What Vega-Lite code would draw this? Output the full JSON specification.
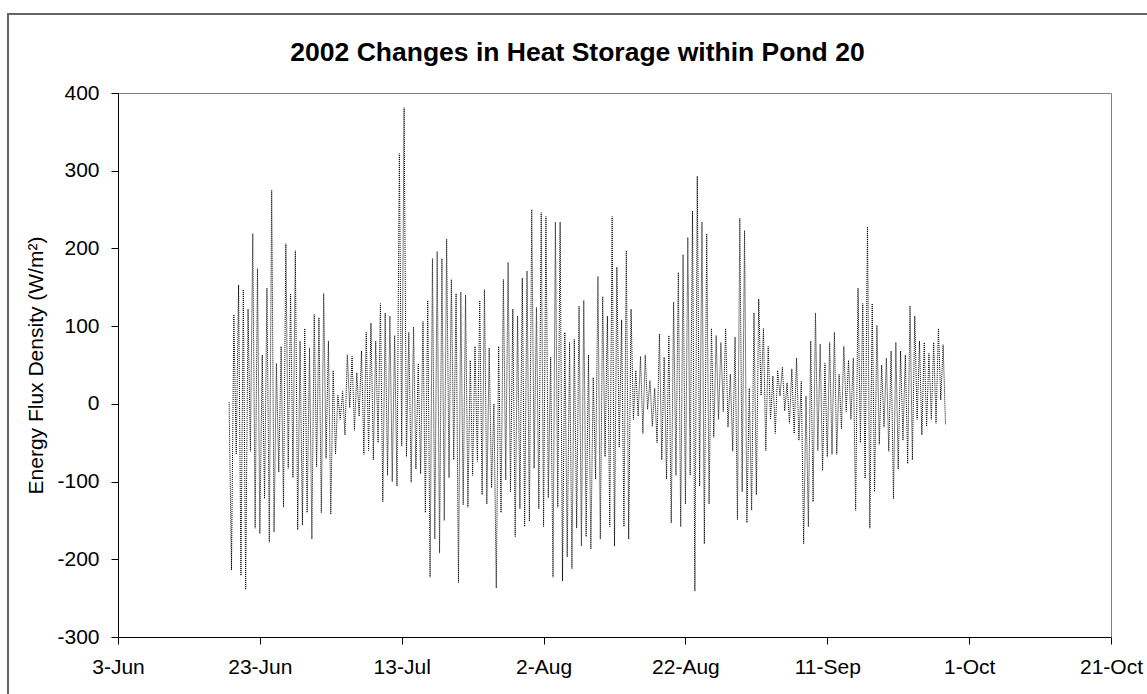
{
  "$schema": "https://vega.github.io/schema/vega-lite/v6.json",
  "width": 993,
  "height": 544,
  "autosize": {"type": "none"},
  "padding": {"left": 118, "top": 93, "right": 36, "bottom": 57},
  "background": "white",
  "config": {
    "font": "Liberation Sans",
    "view": {"stroke": "#808080", "strokeWidth": 1},
    "axis": {"grid": false, "domainColor": "black", "tickColor": "black", "labelColor": "black", "titleColor": "black", "labelFont": "Liberation Sans", "titleFont": "Liberation Sans"}
  },
  "title": {"text": "2002 Changes in Heat Storage within Pond 20", "font": "Liberation Sans", "fontSize": 26.5, "fontWeight": "bold", "color": "black", "anchor": "middle", "frame": "group", "dx": -37, "baseline": "alphabetic", "offset": -74},
  "data": {"values": [
    {"t":"2002-06-18T16:00","v":2},
    {"t":"2002-06-19T00:00","v":-214},{"t":"2002-06-19T08:00","v":115},{"t":"2002-06-19T16:00","v":-65},
    {"t":"2002-06-20T00:00","v":153},{"t":"2002-06-20T08:00","v":-221},{"t":"2002-06-20T16:00","v":147},
    {"t":"2002-06-21T00:00","v":-239},{"t":"2002-06-21T08:00","v":122},{"t":"2002-06-21T16:00","v":-61},
    {"t":"2002-06-22T00:00","v":219},{"t":"2002-06-22T08:00","v":-160},{"t":"2002-06-22T16:00","v":174},
    {"t":"2002-06-23T00:00","v":-167},{"t":"2002-06-23T08:00","v":63},{"t":"2002-06-23T16:00","v":-122},
    {"t":"2002-06-24T00:00","v":149},{"t":"2002-06-24T08:00","v":-178},{"t":"2002-06-24T16:00","v":275},
    {"t":"2002-06-25T00:00","v":-165},{"t":"2002-06-25T08:00","v":52},{"t":"2002-06-25T16:00","v":-88},
    {"t":"2002-06-26T00:00","v":74},{"t":"2002-06-26T08:00","v":-133},{"t":"2002-06-26T16:00","v":206},
    {"t":"2002-06-27T00:00","v":-83},{"t":"2002-06-27T08:00","v":142},{"t":"2002-06-27T16:00","v":-95},
    {"t":"2002-06-28T00:00","v":197},{"t":"2002-06-28T08:00","v":-162},{"t":"2002-06-28T16:00","v":81},
    {"t":"2002-06-29T00:00","v":-156},{"t":"2002-06-29T08:00","v":97},{"t":"2002-06-29T16:00","v":-140},
    {"t":"2002-06-30T00:00","v":72},{"t":"2002-06-30T08:00","v":-174},{"t":"2002-06-30T16:00","v":115},
    {"t":"2002-07-01T00:00","v":-81},{"t":"2002-07-01T08:00","v":111},{"t":"2002-07-01T16:00","v":-140},
    {"t":"2002-07-02T00:00","v":142},{"t":"2002-07-02T08:00","v":-70},{"t":"2002-07-02T16:00","v":81},
    {"t":"2002-07-03T00:00","v":-142},{"t":"2002-07-03T08:00","v":43},{"t":"2002-07-03T16:00","v":-65},
    {"t":"2002-07-04T00:00","v":11},{"t":"2002-07-04T08:00","v":-20},{"t":"2002-07-04T16:00","v":16},
    {"t":"2002-07-05T00:00","v":-40},{"t":"2002-07-05T08:00","v":63},{"t":"2002-07-05T16:00","v":-5},
    {"t":"2002-07-06T00:00","v":61},{"t":"2002-07-06T08:00","v":-34},{"t":"2002-07-06T16:00","v":40},
    {"t":"2002-07-07T00:00","v":-16},{"t":"2002-07-07T08:00","v":68},{"t":"2002-07-07T16:00","v":-65},
    {"t":"2002-07-08T00:00","v":92},{"t":"2002-07-08T08:00","v":-60},{"t":"2002-07-08T16:00","v":104},
    {"t":"2002-07-09T00:00","v":-72},{"t":"2002-07-09T08:00","v":81},{"t":"2002-07-09T16:00","v":-50},
    {"t":"2002-07-10T00:00","v":129},{"t":"2002-07-10T08:00","v":-126},{"t":"2002-07-10T16:00","v":117},
    {"t":"2002-07-11T00:00","v":-92},{"t":"2002-07-11T08:00","v":113},{"t":"2002-07-11T16:00","v":-100},
    {"t":"2002-07-12T00:00","v":88},{"t":"2002-07-12T08:00","v":-106},{"t":"2002-07-12T16:00","v":322},
    {"t":"2002-07-13T00:00","v":-54},{"t":"2002-07-13T08:00","v":381},{"t":"2002-07-13T16:00","v":-68},
    {"t":"2002-07-14T00:00","v":92},{"t":"2002-07-14T08:00","v":-101},{"t":"2002-07-14T16:00","v":99},
    {"t":"2002-07-15T00:00","v":-84},{"t":"2002-07-15T08:00","v":52},{"t":"2002-07-15T16:00","v":-90},
    {"t":"2002-07-16T00:00","v":106},{"t":"2002-07-16T08:00","v":-140},{"t":"2002-07-16T16:00","v":133},
    {"t":"2002-07-17T00:00","v":-223},{"t":"2002-07-17T08:00","v":187},{"t":"2002-07-17T16:00","v":-174},
    {"t":"2002-07-18T00:00","v":196},{"t":"2002-07-18T08:00","v":-192},{"t":"2002-07-18T16:00","v":187},
    {"t":"2002-07-19T00:00","v":-150},{"t":"2002-07-19T08:00","v":212},{"t":"2002-07-19T16:00","v":-95},
    {"t":"2002-07-20T00:00","v":160},{"t":"2002-07-20T08:00","v":-72},{"t":"2002-07-20T16:00","v":142},
    {"t":"2002-07-21T00:00","v":-230},{"t":"2002-07-21T08:00","v":144},{"t":"2002-07-21T16:00","v":-130},
    {"t":"2002-07-22T00:00","v":140},{"t":"2002-07-22T08:00","v":-133},{"t":"2002-07-22T16:00","v":56},
    {"t":"2002-07-23T00:00","v":-92},{"t":"2002-07-23T08:00","v":74},{"t":"2002-07-23T16:00","v":-74},
    {"t":"2002-07-24T00:00","v":133},{"t":"2002-07-24T08:00","v":-117},{"t":"2002-07-24T16:00","v":147},
    {"t":"2002-07-25T00:00","v":-129},{"t":"2002-07-25T08:00","v":72},{"t":"2002-07-25T16:00","v":-108},
    {"t":"2002-07-26T00:00","v":0},{"t":"2002-07-26T08:00","v":-237},{"t":"2002-07-26T16:00","v":74},
    {"t":"2002-07-27T00:00","v":-140},{"t":"2002-07-27T08:00","v":160},{"t":"2002-07-27T16:00","v":-98},
    {"t":"2002-07-28T00:00","v":182},{"t":"2002-07-28T08:00","v":-113},{"t":"2002-07-28T16:00","v":122},
    {"t":"2002-07-29T00:00","v":-171},{"t":"2002-07-29T08:00","v":113},{"t":"2002-07-29T16:00","v":-135},
    {"t":"2002-07-30T00:00","v":162},{"t":"2002-07-30T08:00","v":-158},{"t":"2002-07-30T16:00","v":171},
    {"t":"2002-07-31T00:00","v":-151},{"t":"2002-07-31T08:00","v":250},{"t":"2002-07-31T16:00","v":-83},
    {"t":"2002-08-01T00:00","v":124},{"t":"2002-08-01T08:00","v":-135},{"t":"2002-08-01T16:00","v":246},
    {"t":"2002-08-02T00:00","v":-158},{"t":"2002-08-02T08:00","v":241},{"t":"2002-08-02T16:00","v":-121},
    {"t":"2002-08-03T00:00","v":60},{"t":"2002-08-03T08:00","v":-223},{"t":"2002-08-03T16:00","v":234},
    {"t":"2002-08-04T00:00","v":-133},{"t":"2002-08-04T08:00","v":234},{"t":"2002-08-04T16:00","v":-228},
    {"t":"2002-08-05T00:00","v":92},{"t":"2002-08-05T08:00","v":-197},{"t":"2002-08-05T16:00","v":79},
    {"t":"2002-08-06T00:00","v":-212},{"t":"2002-08-06T08:00","v":83},{"t":"2002-08-06T16:00","v":-160},
    {"t":"2002-08-07T00:00","v":126},{"t":"2002-08-07T08:00","v":-183},{"t":"2002-08-07T16:00","v":133},
    {"t":"2002-08-08T00:00","v":-171},{"t":"2002-08-08T08:00","v":63},{"t":"2002-08-08T16:00","v":-187},
    {"t":"2002-08-09T00:00","v":34},{"t":"2002-08-09T08:00","v":-97},{"t":"2002-08-09T16:00","v":164},
    {"t":"2002-08-10T00:00","v":-174},{"t":"2002-08-10T08:00","v":138},{"t":"2002-08-10T16:00","v":-68},
    {"t":"2002-08-11T00:00","v":113},{"t":"2002-08-11T08:00","v":-158},{"t":"2002-08-11T16:00","v":241},
    {"t":"2002-08-12T00:00","v":-183},{"t":"2002-08-12T08:00","v":176},{"t":"2002-08-12T16:00","v":-56},
    {"t":"2002-08-13T00:00","v":108},{"t":"2002-08-13T08:00","v":-158},{"t":"2002-08-13T16:00","v":197},
    {"t":"2002-08-14T00:00","v":-174},{"t":"2002-08-14T08:00","v":122},{"t":"2002-08-14T16:00","v":-20},
    {"t":"2002-08-15T00:00","v":43},{"t":"2002-08-15T08:00","v":-16},{"t":"2002-08-15T16:00","v":61},
    {"t":"2002-08-16T00:00","v":-38},{"t":"2002-08-16T08:00","v":63},{"t":"2002-08-16T16:00","v":-7},
    {"t":"2002-08-17T00:00","v":30},{"t":"2002-08-17T08:00","v":-29},{"t":"2002-08-17T16:00","v":20},
    {"t":"2002-08-18T00:00","v":-50},{"t":"2002-08-18T08:00","v":90},{"t":"2002-08-18T16:00","v":-72},
    {"t":"2002-08-19T00:00","v":60},{"t":"2002-08-19T08:00","v":-97},{"t":"2002-08-19T16:00","v":88},
    {"t":"2002-08-20T00:00","v":-153},{"t":"2002-08-20T08:00","v":131},{"t":"2002-08-20T16:00","v":-92},
    {"t":"2002-08-21T00:00","v":169},{"t":"2002-08-21T08:00","v":-158},{"t":"2002-08-21T16:00","v":192},
    {"t":"2002-08-22T00:00","v":-129},{"t":"2002-08-22T08:00","v":214},{"t":"2002-08-22T16:00","v":-92},
    {"t":"2002-08-23T00:00","v":248},{"t":"2002-08-23T08:00","v":-241},{"t":"2002-08-23T16:00","v":293},
    {"t":"2002-08-24T00:00","v":-106},{"t":"2002-08-24T08:00","v":234},{"t":"2002-08-24T16:00","v":-180},
    {"t":"2002-08-25T00:00","v":219},{"t":"2002-08-25T08:00","v":-129},{"t":"2002-08-25T16:00","v":97},
    {"t":"2002-08-26T00:00","v":-43},{"t":"2002-08-26T08:00","v":88},{"t":"2002-08-26T16:00","v":-20},
    {"t":"2002-08-27T00:00","v":79},{"t":"2002-08-27T08:00","v":-10},{"t":"2002-08-27T16:00","v":97},
    {"t":"2002-08-28T00:00","v":-30},{"t":"2002-08-28T08:00","v":38},{"t":"2002-08-28T16:00","v":-61},
    {"t":"2002-08-29T00:00","v":86},{"t":"2002-08-29T08:00","v":-149},{"t":"2002-08-29T16:00","v":239},
    {"t":"2002-08-30T00:00","v":-113},{"t":"2002-08-30T08:00","v":223},{"t":"2002-08-30T16:00","v":-153},
    {"t":"2002-08-31T00:00","v":20},{"t":"2002-08-31T08:00","v":-137},{"t":"2002-08-31T16:00","v":117},
    {"t":"2002-09-01T00:00","v":-117},{"t":"2002-09-01T08:00","v":135},{"t":"2002-09-01T16:00","v":11},
    {"t":"2002-09-02T00:00","v":97},{"t":"2002-09-02T08:00","v":-60},{"t":"2002-09-02T16:00","v":74},
    {"t":"2002-09-03T00:00","v":-20},{"t":"2002-09-03T08:00","v":36},{"t":"2002-09-03T16:00","v":-38},
    {"t":"2002-09-04T00:00","v":43},{"t":"2002-09-04T08:00","v":10},{"t":"2002-09-04T16:00","v":47},
    {"t":"2002-09-05T00:00","v":-9},{"t":"2002-09-05T08:00","v":27},{"t":"2002-09-05T16:00","v":-25},
    {"t":"2002-09-06T00:00","v":45},{"t":"2002-09-06T08:00","v":-38},{"t":"2002-09-06T16:00","v":59},
    {"t":"2002-09-07T00:00","v":-47},{"t":"2002-09-07T08:00","v":29},{"t":"2002-09-07T16:00","v":-180},
    {"t":"2002-09-08T00:00","v":10},{"t":"2002-09-08T08:00","v":-158},{"t":"2002-09-08T16:00","v":81},
    {"t":"2002-09-09T00:00","v":-126},{"t":"2002-09-09T08:00","v":117},{"t":"2002-09-09T16:00","v":-60},
    {"t":"2002-09-10T00:00","v":77},{"t":"2002-09-10T08:00","v":-86},{"t":"2002-09-10T16:00","v":52},
    {"t":"2002-09-11T00:00","v":-68},{"t":"2002-09-11T08:00","v":79},{"t":"2002-09-11T16:00","v":-65},
    {"t":"2002-09-12T00:00","v":92},{"t":"2002-09-12T08:00","v":-65},{"t":"2002-09-12T16:00","v":38},
    {"t":"2002-09-13T00:00","v":-32},{"t":"2002-09-13T08:00","v":74},{"t":"2002-09-13T16:00","v":-10},
    {"t":"2002-09-14T00:00","v":56},{"t":"2002-09-14T08:00","v":-20},{"t":"2002-09-14T16:00","v":59},
    {"t":"2002-09-15T00:00","v":-137},{"t":"2002-09-15T08:00","v":149},{"t":"2002-09-15T16:00","v":-50},
    {"t":"2002-09-16T00:00","v":129},{"t":"2002-09-16T08:00","v":-96},{"t":"2002-09-16T16:00","v":228},
    {"t":"2002-09-17T00:00","v":-160},{"t":"2002-09-17T08:00","v":129},{"t":"2002-09-17T16:00","v":-113},
    {"t":"2002-09-18T00:00","v":101},{"t":"2002-09-18T08:00","v":-52},{"t":"2002-09-18T16:00","v":50},
    {"t":"2002-09-19T00:00","v":-30},{"t":"2002-09-19T08:00","v":59},{"t":"2002-09-19T16:00","v":-61},
    {"t":"2002-09-20T00:00","v":68},{"t":"2002-09-20T08:00","v":-122},{"t":"2002-09-20T16:00","v":79},
    {"t":"2002-09-21T00:00","v":-84},{"t":"2002-09-21T08:00","v":68},{"t":"2002-09-21T16:00","v":-47},
    {"t":"2002-09-22T00:00","v":63},{"t":"2002-09-22T08:00","v":-77},{"t":"2002-09-22T16:00","v":126},
    {"t":"2002-09-23T00:00","v":-72},{"t":"2002-09-23T08:00","v":113},{"t":"2002-09-23T16:00","v":-20},
    {"t":"2002-09-24T00:00","v":81},{"t":"2002-09-24T08:00","v":-40},{"t":"2002-09-24T16:00","v":79},
    {"t":"2002-09-25T00:00","v":-29},{"t":"2002-09-25T08:00","v":65},{"t":"2002-09-25T16:00","v":-20},
    {"t":"2002-09-26T00:00","v":79},{"t":"2002-09-26T08:00","v":-25},{"t":"2002-09-26T16:00","v":97},
    {"t":"2002-09-27T00:00","v":5},{"t":"2002-09-27T08:00","v":76},{"t":"2002-09-27T16:00","v":-27}
  ]},
  "layer": [
    {
      "mark": {"type": "line", "stroke": "black", "strokeWidth": 1, "strokeDash": [1, 1], "clip": true},
      "encoding": {
        "x": {"field": "t", "type": "temporal",
          "scale": {"domain": [{"year": 2002, "month": 6, "date": 3}, {"year": 2002, "month": 10, "date": 21}], "nice": false},
          "axis": {"title": null, "values": [
            {"year": 2002, "month": 6, "date": 3}, {"year": 2002, "month": 6, "date": 23},
            {"year": 2002, "month": 7, "date": 13}, {"year": 2002, "month": 8, "date": 2},
            {"year": 2002, "month": 8, "date": 22}, {"year": 2002, "month": 9, "date": 11},
            {"year": 2002, "month": 10, "date": 1}, {"year": 2002, "month": 10, "date": 21}],
            "format": "%-d-%b", "labelFontSize": 21, "tickSize": 7, "labelPadding": 12, "labelFlush": false, "labelOverlap": false, "labelAngle": 0}},
        "y": {"field": "v", "type": "quantitative",
          "scale": {"domain": [-300, 400], "nice": false, "zero": false},
          "axis": {"title": "Energy Flux Density (W/m²)", "values": [-300, -200, -100, 0, 100, 200, 300, 400],
            "labelExpr": "'' + datum.value",
            "labelFontSize": 21, "tickSize": 7, "labelPadding": 12, "titleFontSize": 21, "titleFontWeight": "normal", "titlePadding": 10}}
      }
    },
    {
      "mark": {"type": "rect", "fill": null, "fillOpacity": 0, "stroke": "#666666", "strokeWidth": 1, "clip": false},
      "encoding": {
        "x": {"datum": {"year": 2002, "month": 5, "date": 18, "hours": 12}, "type": "temporal"},
        "x2": {"datum": {"year": 2002, "month": 11, "date": 10}},
        "y": {"datum": 501.7, "type": "quantitative"},
        "y2": {"datum": -450}
      }
    }
  ]
}
